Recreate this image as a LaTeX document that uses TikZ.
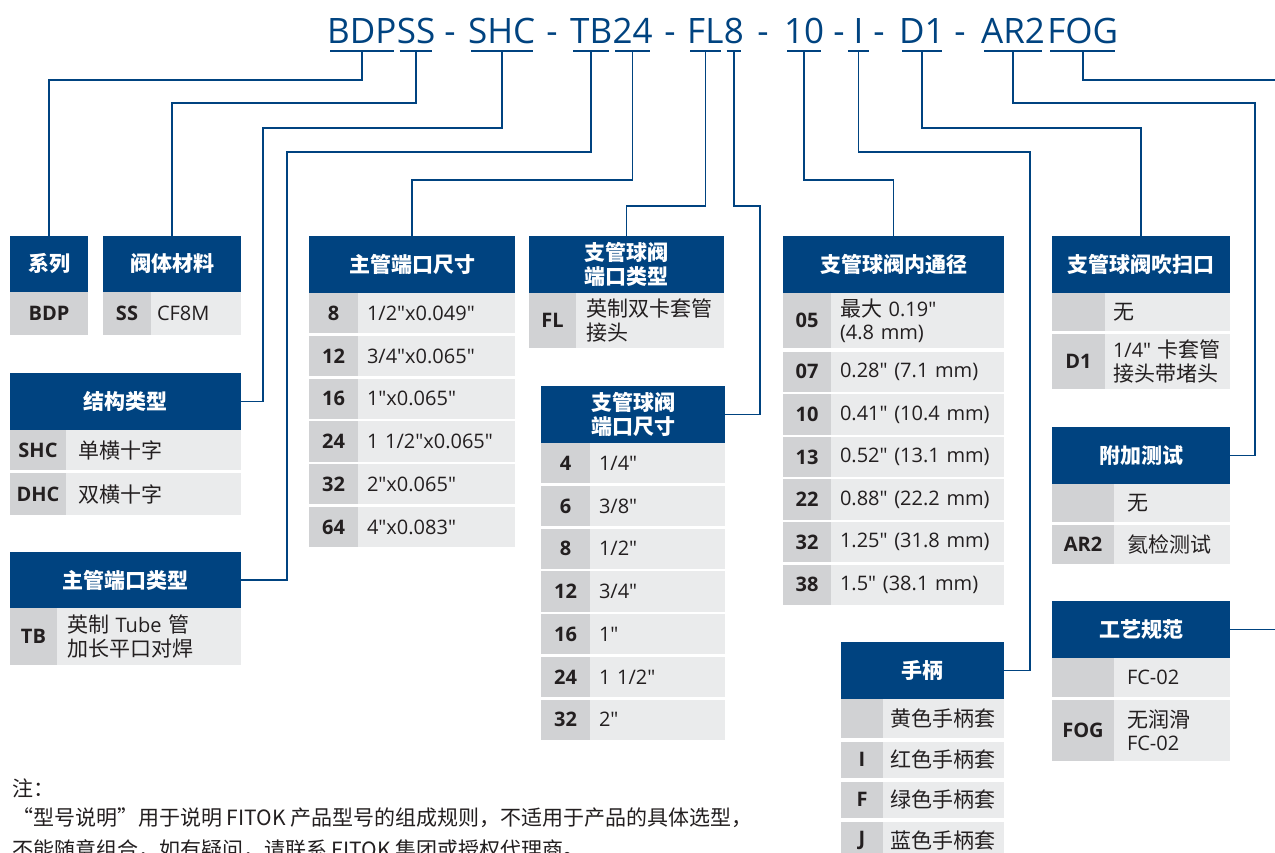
\documentclass[tikz,border=0pt]{standalone}
\usepackage{fontspec}
\setmainfont{Open Sans}
\newfontfamily\os{Open Sans}
\newfontfamily\cj{Noto Sans CJK SC}
\usetikzlibrary{calc}
\definecolor{hblue}{RGB}{0,67,128}
\definecolor{codegray}{RGB}{209,210,212}
\definecolor{valgray}{RGB}{234,235,236}
\definecolor{txt}{RGB}{35,31,32}
\newcommand{\zh}[1]{{\cj\fontsize{21}{23.3}\selectfont #1}}
\newcommand{\mkhdr}[6]{%
  \pgfmathsetmacro\mW{#3-#2}\pgfmathsetmacro\mH{#5-#4}%
  \pgfmathsetmacro\mX{(#2+#3)/2}\pgfmathsetmacro\mY{(#4+#5)/2}%
  \node[hdr, minimum width=\mW pt, minimum height=\mH pt] (#1) at (\mX,\mY) {#6};}
\newcommand{\mkrow}[9]{%
  \pgfmathsetmacro\cW{#3-#2}\pgfmathsetmacro\vW{#4-#3}\pgfmathsetmacro\rH{#6-#5}%
  \pgfmathsetmacro\cX{(#2+#3)/2}\pgfmathsetmacro\vX{(#3+#4)/2}\pgfmathsetmacro\rY{(#5+#6)/2}%
  \pgfmathsetmacro\tW{#4-#3-2*#7}%
  \node[codecell, minimum width=\cW pt, minimum height=\rH pt] (#1c) at (\cX,\rY) {#8};
  \node[valcell, inner xsep=#7pt, text width=\tW pt, minimum height=\rH pt] (#1v) at (\vX,\rY) {#9};}
\begin{document}
\begin{tikzpicture}[x=1pt,y=-1pt,
  hdr/.style={fill=hblue, text=white, font=\cj\bfseries\fontsize{21}{23.3}\selectfont, inner sep=0pt, align=center},
  codecell/.style={fill=codegray, text=txt, font=\os\bfseries\fontsize{20}{23}\selectfont, inner sep=0pt},
  valcell/.style={fill=valgray, text=txt, font=\os\fontsize{20}{23.3}\selectfont, align=left, inner ysep=0pt},
  conn/.style={draw=hblue, line width=1.6pt},
  uline/.style={draw=hblue, line width=1.6pt},
  ttl/.style={text=hblue, font=\os\fontsize{35}{40}\selectfont, inner sep=0pt, anchor=base},
  note/.style={text=txt, font=\cj\fontsize{21}{26}\selectfont, inner sep=0pt, anchor=west}]
\fill[white] (0,0) rectangle (1275,852);
\useasboundingbox (0,0) rectangle (1275,852);

% ---------- title ----------
\node[ttl, anchor=base west] (tBDP) at (327,43) {BDP};
\node[ttl, anchor=base west] (tSS) at (tBDP.base east) {SS};
\node[ttl] (d1) at (450,43) {-};
\node[ttl, anchor=base west] (tSHC) at (468,43) {SHC};
\node[ttl] (d2) at (552,43) {-};
\node[ttl, anchor=base west] (tTB) at (570,43) {TB};
\node[ttl, anchor=base west] (t24) at (tTB.base east) {24};
\node[ttl] (d3) at (670,43) {-};
\node[ttl, anchor=base west] (tFL) at (687,43) {FL};
\node[ttl, anchor=base west] (t8) at (tFL.base east) {8};
\node[ttl] (d4) at (763,43) {-};
\node[ttl, anchor=base west] (t10) at (784,43) {10};
\node[ttl] (d5) at (839,43) {-};
\node[ttl, minimum width=27pt] (tI) at (858.5,43) {I};
\node[ttl] (d6) at (879,43) {-};
\node[ttl, anchor=base west] (tD1) at (899,43) {D1};
\node[ttl] (d7) at (960,43) {-};
\node[ttl, anchor=base west] (tAR2) at (981,43) {AR2};
\node[ttl, anchor=base west] (tFOG) at ([xshift=2pt]tAR2.base east) {FOG};

\foreach \n in {BDP,SS,SHC,TB,24,FL,8,10,I,D1,AR2,FOG}{
  \draw[uline] ([xshift=3pt,yshift=-7.5pt]t\n.south west) -- ([xshift=-3pt,yshift=-7.5pt]t\n.south east);
  \coordinate (u\n) at ([yshift=-7.5pt]t\n.south);
}

% ---------- boxes ----------
% 系列
\mkhdr{hSer}{10}{88}{236}{292}{系列}
\node[codecell, minimum width=78pt, minimum height=43pt] (rSer) at (49,313.5) {BDP};
% 阀体材料
\mkhdr{hMat}{103}{241}{236}{292}{阀体材料}
\mkrow{rMat}{103}{151}{241}{292}{335}{6}{SS}{CF8M}
% 结构类型
\mkhdr{hStruct}{10}{241}{373}{430}{结构类型}
\mkrow{rSt1}{10}{66}{241}{430}{470}{12}{SHC}{\zh{单横十字}}
\mkrow{rSt2}{10}{66}{241}{473}{515}{12}{DHC}{\zh{双横十字}}
% 主管端口类型
\mkhdr{hTBtype}{10}{241}{552}{608}{主管端口类型}
\mkrow{rTBt}{10}{57}{241}{608}{665}{10}{TB}{\zh{英制}~Tube~\zh{管}\\\zh{加长平口对焊}}
% 主管端口尺寸
\mkhdr{hTBs}{309}{515}{236}{293}{主管端口尺寸}
\foreach \i/\c/\v in {0/8/{1/2"x0.049"},1/12/{3/4"x0.065"},2/16/{1"x0.065"},3/24/{1~1/2"x0.065"},4/32/{2"x0.065"},5/64/{4"x0.083"}}{
  \pgfmathsetmacro\yt{293+\i*42.75}\pgfmathsetmacro\yb{\yt+40.3}
  \mkrow{rTBs\i}{309}{358}{515}{\yt}{\yb}{9}{\c}{\v}
}
% 支管球阀端口类型
\mkhdr{hFLtype}{529}{724}{236}{293}{支管球阀\\端口类型}
\mkrow{rFLt}{529}{576}{724}{293}{348}{10}{FL}{\zh{英制双卡套管}\\\zh{接头}}
% 支管球阀端口尺寸
\mkhdr{hFLs}{541}{725}{386}{443}{支管球阀\\端口尺寸}
\foreach \i/\c/\v in {0/4/{1/4"},1/6/{3/8"},2/8/{1/2"},3/12/{3/4"},4/16/{1"},5/24/{1~1/2"},6/32/{2"}}{
  \pgfmathsetmacro\yt{443+\i*42.75}\pgfmathsetmacro\yb{\yt+40.3}
  \mkrow{rFLs\i}{541}{590}{725}{\yt}{\yb}{9}{\c}{\v}
}
% 支管球阀内通径
\mkhdr{hBore}{783}{1004}{236}{293}{支管球阀内通径}
\mkrow{rBo}{783}{831}{1004}{293}{348}{9}{05}{\zh{最大}~0.19"\\(4.8~mm)}
\foreach \i/\c/\v in {0/07/{0.28"~(7.1~mm)},1/10/{0.41"~(10.4~mm)},2/13/{0.52"~(13.1~mm)},3/22/{0.88"~(22.2~mm)},4/32/{1.25"~(31.8~mm)},5/38/{1.5"~(38.1~mm)}}{
  \pgfmathsetmacro\yt{351.5+\i*42.6}\pgfmathsetmacro\yb{\yt+40.5}
  \mkrow{rBore\i}{783}{831}{1004}{\yt}{\yb}{9}{\c}{\v}
}
% 手柄
\mkhdr{hHandle}{841}{1004}{642}{699}{手柄}
\mkrow{rHa0}{841}{883}{1004}{699}{738}{7}{}{\zh{黄色手柄套}}
\mkrow{rHa1}{841}{883}{1004}{741.5}{778}{7}{I}{\zh{红色手柄套}}
\mkrow{rHa2}{841}{883}{1004}{781.5}{818}{7}{F}{\zh{绿色手柄套}}
\mkrow{rHa3}{841}{883}{1004}{821.5}{860}{7}{J}{\zh{蓝色手柄套}}
% 支管球阀吹扫口
\mkhdr{hPurge}{1052}{1230}{236}{293}{支管球阀吹扫口}
\mkrow{rPu0}{1052}{1105}{1230}{293}{331}{8}{}{\zh{无}}
\mkrow{rPu1}{1052}{1105}{1230}{334}{389}{8}{D1}{1/4"~\zh{卡套管}\\\zh{接头带堵头}}
% 附加测试
\mkhdr{hTest}{1052}{1230}{427}{484}{附加测试}
\mkrow{rTe0}{1052}{1114}{1230}{484}{522}{13}{}{\zh{无}}
\mkrow{rTe1}{1052}{1114}{1230}{525}{564}{13}{AR2}{\zh{氦检测试}}
% 工艺规范
\mkhdr{hProc}{1052}{1230}{601}{658}{工艺规范}
\mkrow{rPr0}{1052}{1114}{1230}{658}{697}{13}{}{FC-02}
\mkrow{rPr1}{1052}{1114}{1230}{700}{761}{13}{FOG}{\zh{无润滑}\\FC-02}

% ---------- connectors ----------
\coordinate (offFOG) at (1280,80);
\coordinate (offProc) at (1280,629.5);
\draw[conn] (uBDP) -- (uBDP |- 0,80) -| (hSer.north);
\draw[conn] (uSS) -- (uSS |- 0,103) -| (hMat.north);
\draw[conn] (uSHC) |- (263,128) |- (hStruct.east);
\draw[conn] (uTB) |- (287,152) |- (hTBtype.east);
\draw[conn] (u24) -- (u24 |- 0,180) -| (hTBs.north);
\draw[conn] (uFL) -- (uFL |- 0,206) -| (hFLtype.north);
\draw[conn] (u8) |- (760,206) |- (hFLs.east);
\draw[conn] (u10) -- (u10 |- 0,180) -| (hBore.north);
\draw[conn] (uI) |- (1030,152) |- (hHandle.east);
\draw[conn] (uD1) -- (uD1 |- 0,128) -| (hPurge.north);
\draw[conn] (uAR2) |- (1255,103) |- (hTest.east);
\draw[conn] (uFOG) |- (offFOG);
\draw[conn] (hProc.east) -- (offProc);

% ---------- note ----------
\node[note] (n1) at (12,788) {注：};
\node[note] (n2) at (12,818) {“型号说明”用于说明 FITOK 产品型号的组成规则，不适用于产品的具体选型，};
\node[note] (n3) at (12,850) {不能随意组合，如有疑问，请联系 FITOK 集团或授权代理商。};
\end{tikzpicture}
\end{document}
